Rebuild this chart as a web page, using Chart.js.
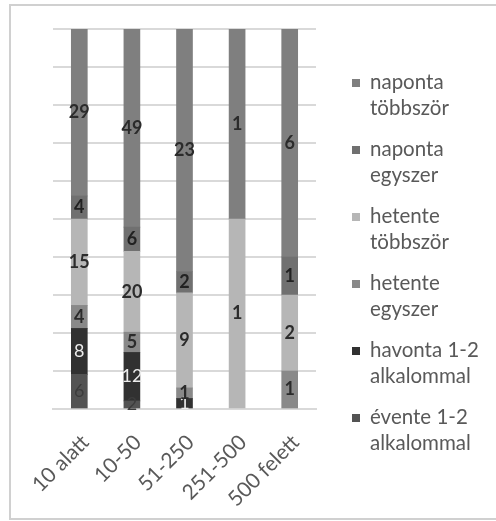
<!DOCTYPE html>
<html>
<head>
<meta charset="utf-8">
<script src="https://cdn.jsdelivr.net/npm/chart.js@4.4.1/dist/chart.umd.min.js"></script>
<style>
    body { margin: 0; background: #fff; overflow: hidden; }
    #wrap { position: relative; width: 496px; height: 521px; overflow: hidden; }
    #frame { position: absolute; left: 9px; top: 4px; width: 600px; height: 512px; border: 2px solid #d0d0d0; }
    #chart { position: absolute; left: 0; top: 0; }
    #legend { position: absolute; left: 352px; top: 68px; font-family: Lato, sans-serif; font-size: 20.5px; color: #595959; }
    .item { position: relative; padding-left: 18px; line-height: 26px; margin-bottom: 15px; }
    .box { position: absolute; left: 0; top: 11px; width: 8px; height: 8px; }
</style>
</head>
<body>
<div id="wrap">
    <div id="frame"></div>
    <canvas id="chart" width="496" height="521"></canvas>
    <div id="legend"></div>
</div>
<script>
const categories = ['10 alatt', '10-50', '51-250', '251-500', '500 felett'];

// darabszamok kategoriankent
const naponta_tobbszor = [29, 49, 23, 1, 6];
const naponta_egyszer = [4, 6, 2, 0, 1];
const hetente_tobbszor = [15, 20, 9, 1, 2];
const hetente_egyszer = [4, 5, 1, 0, 1];
const havonta = [8, 12, 1, 0, 0];
const evente = [6, 2, 0, 0, 0];

const yTicks = [0, 10, 20, 30, 40, 50, 60, 70, 80, 90, 100];

// alulrol felfele
const series = [
    { label: ['évente 1-2', 'alkalommal'], counts: evente, color: '#535353', text: '#3c3c3c', bold: false },
    { label: ['havonta 1-2', 'alkalommal'], counts: havonta, color: '#313131', text: '#ececec', bold: false },
    { label: ['hetente', 'egyszer'], counts: hetente_egyszer, color: '#898989', text: '#2b2b2b', bold: true },
    { label: ['hetente', 'többször'], counts: hetente_tobbszor, color: '#b6b6b6', text: '#2b2b2b', bold: true },
    { label: ['naponta', 'egyszer'], counts: naponta_egyszer, color: '#707070', text: '#222222', bold: true },
    { label: ['naponta', 'többször'], counts: naponta_tobbszor, color: '#7f7f7f', text: '#2b2b2b', bold: true }
];

const totals = categories.map((c, j) => series.reduce((s, ser) => s + ser.counts[j], 0));

const valueLabels = {
    id: 'valueLabels',
    afterDatasetsDraw(chart) {
        const ctx = chart.ctx;
        chart.data.datasets.forEach((ds, i) => {
            const meta = chart.getDatasetMeta(i);
            meta.data.forEach((bar, j) => {
                const v = ds.counts[j];
                if (!v) return;
                const p = bar.getProps(['x', 'y', 'base'], true);
                ctx.save();
                ctx.font = (ds.bold ? 'bold ' : '') + '18px Lato, sans-serif';
                ctx.fillStyle = ds.textColor;
                ctx.textAlign = 'center';
                ctx.textBaseline = 'middle';
                ctx.fillText(v, p.x, (p.y + p.base) / 2);
                ctx.restore();
            });
        });
    }
};

function draw() {
    const datasets = series.map(s => ({
        label: s.label.join(' '),
        // 0 ertekek ne rajzoljanak semmit
        data: s.counts.map((v, j) => v ? v / totals[j] * 100 : null),
        counts: s.counts,
        backgroundColor: s.color,
        textColor: s.text,
        bold: s.bold,
        barThickness: 16,
        borderWidth: 0
    }));

    new Chart(document.getElementById('chart'), {
        type: 'bar',
        data: { labels: categories, datasets: datasets },
        plugins: [valueLabels],
        options: {
            responsive: false,
            animation: false,
            devicePixelRatio: 1,
            layout: { padding: { left: 53, top: 29, right: 180, bottom: 0 } },
            plugins: {
                legend: { display: false },
                tooltip: { enabled: false }
            },
            scales: {
                x: {
                    stacked: true,
                    grid: { display: false },
                    border: { display: true, color: '#d9d9d9', width: 2 },
                    ticks: {
                        color: '#595959',
                        font: { family: 'Lato', size: 21 },
                        minRotation: 45,
                        maxRotation: 45,
                        padding: 13,
                        labelOffset: 6
                    },
                    afterFit: s => { s.height = 112; }
                },
                y: {
                    stacked: true,
                    min: yTicks[0],
                    max: yTicks[yTicks.length - 1],
                    afterBuildTicks: s => { s.ticks = yTicks.map(v => ({ value: v })); },
                    ticks: { display: false },
                    grid: { color: '#d9d9d9', lineWidth: 2, drawTicks: false },
                    border: { display: false },
                    afterFit: s => { s.width = 0; }
                }
            }
        }
    });

    // jelmagyarazat, felulrol lefele
    const legend = document.getElementById('legend');
    series.slice().reverse().forEach(s => {
        const item = document.createElement('div');
        item.className = 'item';
        item.innerHTML = '<span class="box" style="background:' + s.color + '"></span>' + s.label.join('<br>');
        legend.appendChild(item);
    });
}

document.fonts.load('20px Lato').then(draw, draw);
</script>
</body>
</html>
